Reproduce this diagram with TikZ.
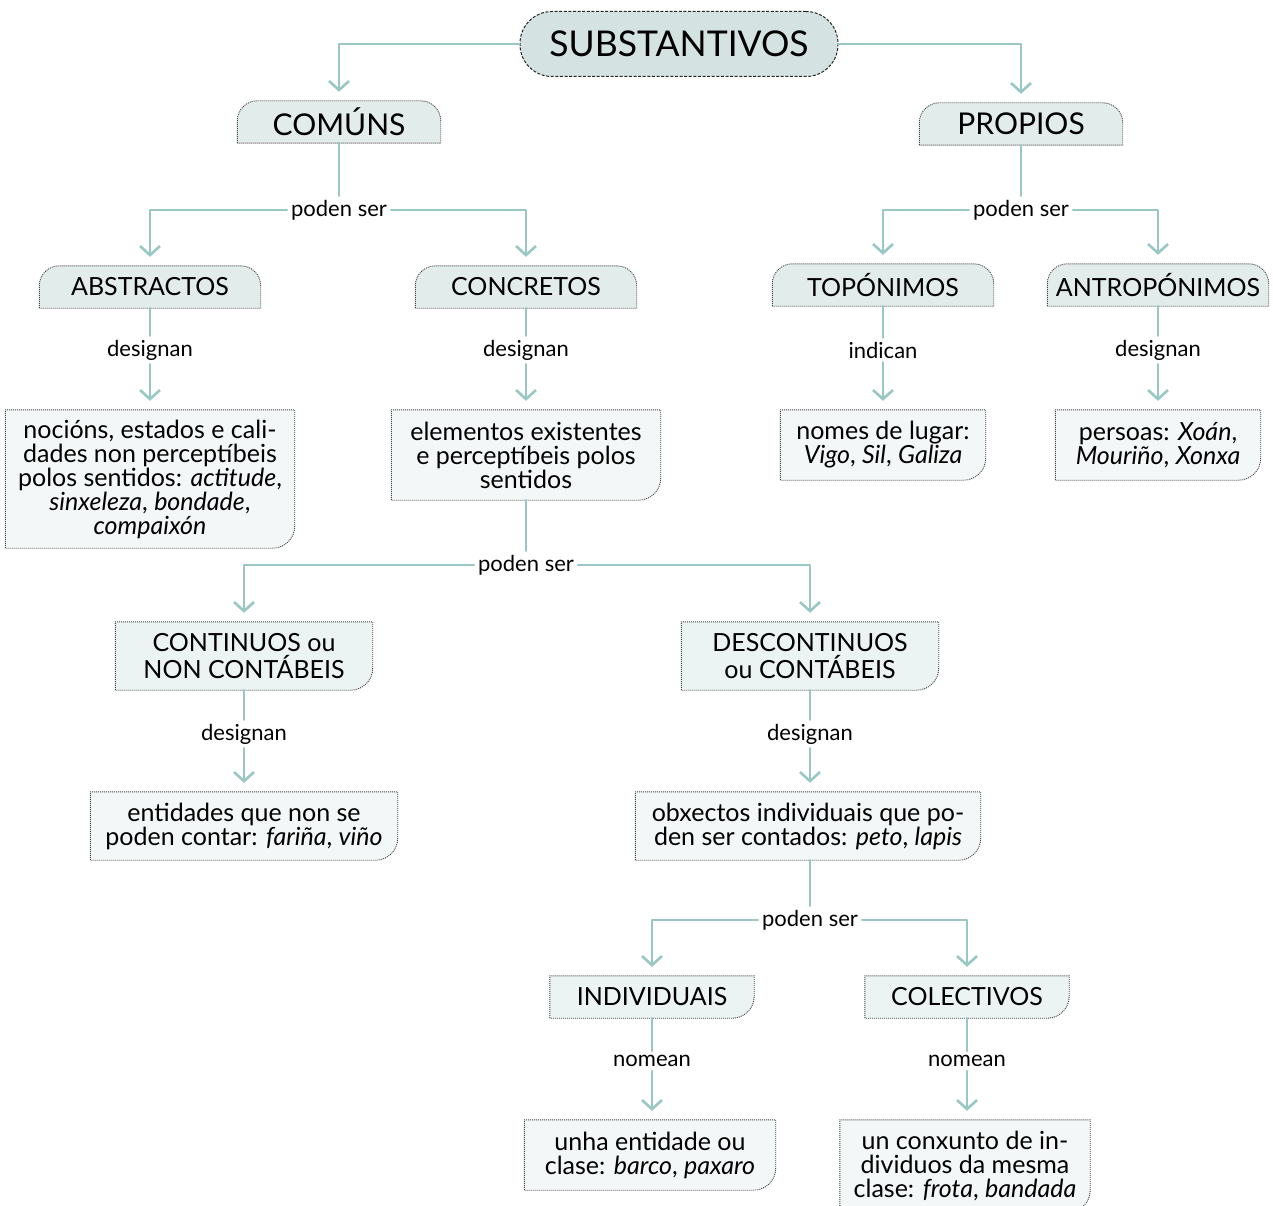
\documentclass[tikz,border=0pt]{standalone}
\usepackage{fontspec}
\setmainfont{Lato}
\setsansfont{Lato}
\usetikzlibrary{arrows.meta,backgrounds}

\begin{document}
\begin{tikzpicture}[
    x=1pt, y=1pt,
    every node/.style={font=\sffamily},
    line join=round,
    line cap=round,
    topnode/.style={draw=black!85, fill=topfill, line width=1pt, line cap=butt,
        dash pattern=on 3pt off 1.6pt, rounded corners=32pt,
        minimum width=318pt, minimum height=65pt,
        font=\sffamily\fontsize{35.5}{38}\selectfont},
    tabnode/.style={inner sep=0pt, minimum height=42pt, align=center,
        font=\sffamily\fontsize{25}{27}\selectfont},
    boxnode/.style={inner sep=0pt, align=center,
        font=\sffamily\fontsize{25}{24}\selectfont},
    linklabel/.style={inner sep=4pt, font=\sffamily\fontsize{22}{24}\selectfont},
    conn/.style={draw=linkteal, line width=2.6pt},
    arr/.style={conn, -{Straight Barb[length=9pt, width=20pt]}, shorten >=9pt},
    dotline/.style={draw=black!75, line width=0.9pt, line cap=butt,
        dash pattern=on 1pt off 1pt}
]

% Colors
\definecolor{linkteal}{RGB}{152,199,196}
\definecolor{topfill}{RGB}{212,226,225}
\definecolor{tabfill}{RGB}{226,236,235}
\definecolor{midfill}{RGB}{236,243,243}
\definecolor{leaffill}{RGB}{244,247,247}

\useasboundingbox (0,0) rectangle (1273,-1206);

% ----------------------------------------------------
% Box outlines (drawn behind the nodes)
% ----------------------------------------------------
\newcommand{\tabshape}[2]{%
\path[fill=#2, dotline] (#1.south west)
-- ([yshift=-20pt]#1.north west) arc[start angle=180, end angle=90, radius=20pt]
-- ([xshift=-20pt]#1.north east) arc[start angle=90, end angle=0, radius=20pt]
-- (#1.south east) -- cycle;
}
\newcommand{\cornershape}[2]{%
\path[fill=#2, dotline] (#1.south west) -- (#1.north west) -- (#1.north east)
-- ([yshift=22pt]#1.south east) arc[start angle=0, end angle=-90, radius=22pt]
-- cycle;
}

% ----------------------------------------------------
% Top and first level
% ----------------------------------------------------
\node[topnode] (subst) at (679,-44) {SUBSTANTIVOS};

\node[tabnode, minimum width=203pt, font=\sffamily\fontsize{30}{33}\selectfont] (comuns) at (339,-122) {COMÚNS};
\node[tabnode, minimum width=203pt, font=\sffamily\fontsize{30}{33}\selectfont] (propios) at (1021,-124) {PROPIOS};

\node[linklabel] (ps1) at (339,-210) {poden ser};
\node[linklabel] (ps2) at (1021,-210) {poden ser};

% ----------------------------------------------------
% Second level
% ----------------------------------------------------
\node[tabnode, minimum width=221pt] (abstractos) at (150,-287) {ABSTRACTOS};
\node[tabnode, minimum width=221pt] (concretos) at (526,-287) {CONCRETOS};
\node[tabnode, minimum width=221pt] (toponimos) at (883,-285) {TOPÓNIMOS};
\node[tabnode, minimum width=221pt] (antroponimos) at (1158,-285) {ANTROPÓNIMOS};

\node[linklabel] (des1) at (150,-350) {designan};
\node[linklabel] (des2) at (526,-350) {designan};
\node[linklabel] (ind1) at (883,-350) {indican};
\node[linklabel] (des3) at (1158,-350) {designan};

\node[boxnode, minimum width=289pt, minimum height=138pt] (nocions) at (150,-479)
{nocións, estados e cali-\\dades non perceptíbeis\\polos sentidos: \textit{actitude},\\\textit{sinxeleza}, \textit{bondade},\\\textit{compaixón}};
\node[boxnode, minimum width=269pt, minimum height=90pt] (elementos) at (526,-455)
{elementos existentes\\e perceptíbeis polos\\sentidos};
\node[boxnode, minimum width=205pt, minimum height=70pt] (lugar) at (883,-445)
{nomes de lugar:\\\textit{Vigo}, \textit{Sil}, \textit{Galiza}};
\node[boxnode, minimum width=205pt, minimum height=70pt] (persoas) at (1158,-445)
{persoas: \textit{Xoán},\\\textit{Mouriño}, \textit{Xonxa}};

% ----------------------------------------------------
% Concretos: continuos / descontinuos
% ----------------------------------------------------
\node[linklabel] (ps3) at (526,-565) {poden ser};

\node[tabnode, minimum width=257pt, minimum height=68pt] (continuos) at (244,-656) {CONTINUOS ou\\NON CONTÁBEIS};
\node[tabnode, minimum width=257pt, minimum height=68pt] (descontinuos) at (810,-656) {DESCONTINUOS\\ou CONTÁBEIS};

\node[linklabel] (des4) at (244,-734) {designan};
\node[linklabel] (des5) at (810,-734) {designan};

\node[boxnode, minimum width=307pt, minimum height=68pt] (entidades) at (244,-826)
{entidades que non se\\poden contar: \textit{fariña}, \textit{viño}};
\node[boxnode, minimum width=345pt, minimum height=68pt] (obxectos) at (808,-826)
{obxectos individuais que po-\\den ser contados: \textit{peto}, \textit{lapis}};

% ----------------------------------------------------
% Descontinuos: individuais / colectivos
% ----------------------------------------------------
\node[linklabel] (ps4) at (810,-920) {poden ser};

\node[tabnode, minimum width=204pt] (individuais) at (652,-997) {INDIVIDUAIS};
\node[tabnode, minimum width=204pt] (colectivos) at (967,-997) {COLECTIVOS};

\node[linklabel] (nom1) at (652,-1061) {nomean};
\node[linklabel] (nom2) at (967,-1061) {nomean};

\node[boxnode, minimum width=251pt, minimum height=70pt] (unha) at (650,-1155)
{unha entidade ou\\clase: \textit{barco}, \textit{paxaro}};
\node[boxnode, minimum width=250pt, minimum height=92pt] (conxunto) at (965,-1166)
{un conxunto de in-\\dividuos da mesma\\clase: \textit{frota}, \textit{bandada}};

% ----------------------------------------------------
% Outlines
% ----------------------------------------------------
\begin{scope}[on background layer]
\foreach \n in {comuns, propios, abstractos, concretos, toponimos, antroponimos}
    {\tabshape{\n}{tabfill}}
\foreach \n in {continuos, descontinuos, individuais, colectivos}
    {\cornershape{\n}{midfill}}
\foreach \n in {nocions, elementos, lugar, persoas, entidades, obxectos, unha, conxunto}
    {\cornershape{\n}{leaffill}}
\end{scope}

% ----------------------------------------------------
% Connectors
% ----------------------------------------------------
\draw[arr] (subst.west) -| (comuns.north);
\draw[arr] (subst.east) -| (propios.north);

\draw[conn] (comuns) -- (ps1);
\draw[arr] (ps1.west) -| (abstractos.north);
\draw[arr] (ps1.east) -| (concretos.north);
\draw[conn] (propios) -- (ps2);
\draw[arr] (ps2.west) -| (toponimos.north);
\draw[arr] (ps2.east) -| (antroponimos.north);

\draw[conn] (abstractos) -- (des1);
\draw[arr] (des1) -- (nocions);
\draw[conn] (concretos) -- (des2);
\draw[arr] (des2) -- (elementos);
\draw[conn] (toponimos) -- (ind1);
\draw[arr] (ind1) -- (lugar);
\draw[conn] (antroponimos) -- (des3);
\draw[arr] (des3) -- (persoas);

\draw[conn] (elementos) -- (ps3);
\draw[arr] (ps3.west) -| (continuos.north);
\draw[arr] (ps3.east) -| (descontinuos.north);

\draw[conn] (continuos) -- (des4);
\draw[arr] (des4) -- (entidades);
\draw[conn] (descontinuos) -- (des5);
\draw[arr] (des5) -- (obxectos.north -| des5);

\draw[conn] (obxectos.south -| ps4) -- (ps4);
\draw[arr] (ps4.west) -| (individuais.north);
\draw[arr] (ps4.east) -| (colectivos.north);

\draw[conn] (individuais) -- (nom1);
\draw[arr] (nom1) -- (unha.north -| nom1);
\draw[conn] (colectivos) -- (nom2);
\draw[arr] (nom2) -- (conxunto.north -| nom2);

\end{tikzpicture}
\end{document}
